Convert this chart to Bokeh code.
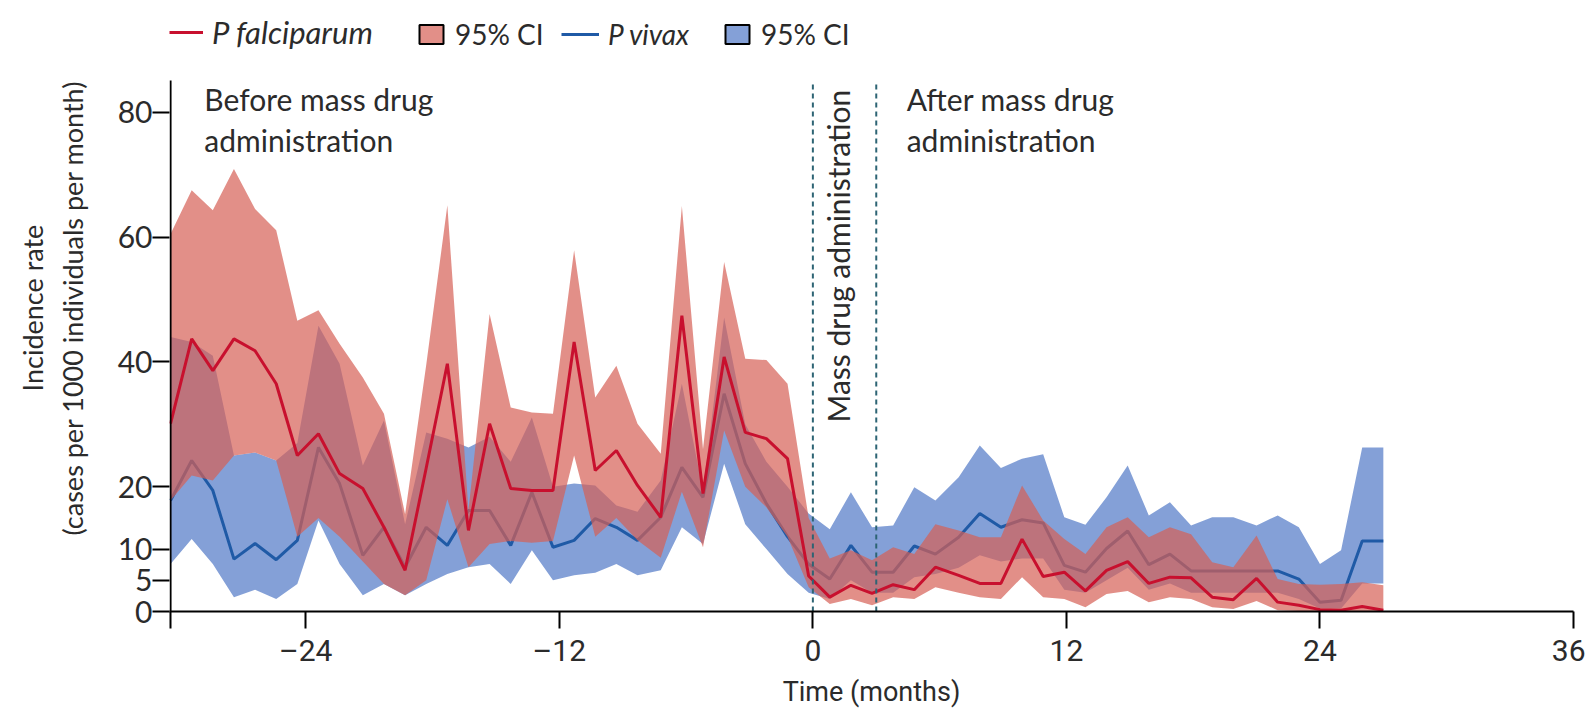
import math
from bokeh.plotting import figure
from bokeh.models import (ColumnDataSource, Range1d, FixedTicker, Label, Legend,
                          LegendItem)
from bokeh.embed import file_html
from bokeh.resources import INLINE

# ---------------- data ----------------
months = [-30.4, -29.4, -28.4, -27.4, -26.4, -25.4, -24.4, -23.4, -22.4, -21.3,
          -20.3, -19.3, -18.3, -17.3, -16.3, -15.3, -14.3, -13.3, -12.3, -11.3,
          -10.3, -9.3, -8.3, -7.2, -6.2, -5.2, -4.2, -3.2, -2.2, -1.2,
          -0.2, 0.8, 1.8, 2.8, 3.8, 4.8, 5.8, 6.9, 7.9, 8.9,
          9.9, 10.9, 11.9, 12.9, 13.9, 14.9, 15.9, 16.9, 17.9, 18.9,
          19.9, 21.0, 22.0, 23.0, 24.0, 25.0, 26.0, 27.0]

pf = [30.1, 43.7, 38.6, 43.7, 41.8, 36.5, 25.0, 28.5, 22.1, 19.7,
      13.5, 6.6, 23.0, 39.7, 13.0, 30.1, 19.7, 19.4, 19.4, 43.2,
      22.6, 25.8, 20.2, 15.1, 47.4, 18.9, 40.8, 28.7, 27.7, 24.5,
      5.7, 2.3, 4.2, 2.9, 4.3, 3.5, 7.1, 5.8, 4.5, 4.5,
      11.6, 5.6, 6.3, 3.3, 6.6, 8.0, 4.5, 5.5, 5.4, 2.3,
      1.9, 5.3, 1.5, 1.0, 0.3, 0.2, 0.8, 0.2]
pf_hi = [60.5, 67.5, 64.3, 70.9, 64.5, 61.1, 46.6, 48.3, 42.9, 37.5,
         31.7, 15.6, 39.5, 65.1, 16.2, 47.7, 32.7, 31.9, 31.7, 57.9,
         34.3, 39.4, 30.1, 25.3, 65.0, 26.0, 56.0, 40.5, 40.3, 36.5,
         15.0, 8.5, 9.8, 8.2, 10.3, 9.2, 14.0, 13.0, 11.9, 11.9,
         20.2, 14.6, 11.6, 9.2, 13.5, 15.1, 11.9, 13.5, 12.4, 7.9,
         7.1, 12.2, 5.2, 4.4, 4.3, 4.4, 4.7, 4.2]
pf_lo = [17.8, 21.8, 21.0, 25.0, 25.5, 24.2, 12.0, 15.0, 12.0, 8.0,
         4.4, 2.6, 5.0, 18.0, 7.1, 10.8, 11.3, 11.0, 11.3, 25.0,
         12.0, 15.0, 11.4, 8.6, 19.2, 10.3, 29.0, 20.0, 16.7, 12.0,
         3.9, 1.2, 2.0, 1.0, 2.3, 2.0, 3.9, 3.0, 2.3, 2.0,
         5.5, 2.3, 2.0, 0.7, 2.8, 3.3, 1.5, 2.3, 2.0, 0.7,
         0.4, 1.7, 0.2, 0.1, 0.0, 0.0, 0.0, 0.0]

pv = [17.8, 24.2, 19.4, 8.4, 10.9, 8.3, 11.4, 26.3, 20.5, 9.0,
      13.5, 7.1, 13.5, 10.6, 16.2, 16.2, 10.6, 19.1, 10.3, 11.4,
      14.9, 13.5, 11.4, 15.1, 23.1, 18.3, 34.9, 23.7, 17.3, 12.0,
      7.6, 5.2, 10.6, 6.3, 6.3, 10.5, 9.2, 11.9, 15.7, 13.5,
      14.7, 14.2, 7.4, 6.3, 10.1, 12.9, 7.5, 9.2, 6.5, 6.5,
      6.5, 6.5, 6.5, 5.2, 1.5, 1.8, 11.3, 11.3]
pv_hi = [44.0, 43.2, 41.0, 25.0, 25.5, 24.2, 27.0, 45.8, 39.7, 23.4,
         30.6, 14.0, 28.7, 27.7, 26.3, 28.0, 24.0, 31.1, 20.0, 20.5,
         20.2, 17.0, 16.0, 21.0, 36.5, 19.4, 47.1, 30.0, 24.0, 20.0,
         15.7, 13.2, 19.1, 13.5, 13.8, 19.9, 17.8, 21.5, 26.6, 23.0,
         24.5, 25.2, 15.1, 13.9, 18.3, 23.4, 15.4, 17.5, 13.8, 15.1,
         15.1, 13.8, 15.4, 13.5, 7.6, 9.8, 26.3, 26.3]
pv_lo = [7.6, 11.6, 7.6, 2.3, 3.5, 2.0, 4.4, 14.6, 7.6, 2.6,
         4.4, 2.6, 4.4, 6.0, 7.1, 7.6, 4.4, 9.8, 5.0, 5.8,
         6.2, 7.6, 5.8, 6.6, 13.5, 10.8, 23.7, 14.0, 10.0, 6.0,
         3.0, 2.0, 5.0, 3.0, 3.0, 5.5, 6.0, 7.0, 9.0, 8.0,
         8.5, 8.5, 3.5, 3.0, 5.0, 7.0, 3.5, 4.5, 3.0, 3.0,
         3.0, 3.0, 3.0, 2.0, 0.5, 0.5, 4.5, 4.5]

x_ticks = [-24, -12, 0, 12, 24, 36]
x_tick_labels = ["\u201324", "\u201312", "0", "12", "24", "36"]
y_ticks = [0, 5, 10, 20, 40, 60, 80]
mda_lines = [0, 3]

# ---------------- style ----------------
RED_LINE = "#c8102e"
RED_FILL = "#d65f55"
BLUE_LINE = "#1f5aa6"
BLUE_FILL = "#6f8fd0"
TEXT = "#2b2b2b"
FONT = "Lato"
NARROW = "Roboto"

X0, X1 = -30.4, 36.0
AX_TOP = 85.1           # top of the drawn y axis
PX_PER_UNIT = 6.2375    # vertical pixels per unit of the y axis
FRAME_TOP_EXTRA = 76    # pixels of frame kept above the axis for the legend
Y1 = AX_TOP + FRAME_TOP_EXTRA / PX_PER_UNIT

p = figure(width=1585, height=711, output_backend="svg", toolbar_location=None,
           x_range=Range1d(X0 - 0.05, X1), y_range=Range1d(0, Y1),
           min_border_left=169, min_border_right=12, min_border_top=4,
           min_border_bottom=100)
p.outline_line_color = None
p.xgrid.visible = False
p.ygrid.visible = False
p.background_fill_color = "white"

src = ColumnDataSource(dict(x=months, pf=pf, pf_lo=pf_lo, pf_hi=pf_hi,
                            pv=pv, pv_lo=pv_lo, pv_hi=pv_hi))

p.varea(x="x", y1="pv_lo", y2="pv_hi", source=src, fill_color=BLUE_FILL, fill_alpha=0.85)
pv_r = p.line("x", "pv", source=src, line_color=BLUE_LINE, line_width=3)
p.varea(x="x", y1="pf_lo", y2="pf_hi", source=src, fill_color=RED_FILL, fill_alpha=0.7)
pf_r = p.line("x", "pf", source=src, line_color=RED_LINE, line_width=3)

# dashed lines marking the mass drug administration period
p.segment(x0=mda_lines, y0=[0] * len(mda_lines), x1=mda_lines,
          y1=[AX_TOP] * len(mda_lines), line_color="#2d6474",
          line_dash="5 4", line_width=2)

# y axis line drawn only up to the axis top
p.segment(x0=[X0], y0=[0], x1=[X0], y1=[AX_TOP], line_color="black", line_width=2)

# axes
ax = p.xaxis[0]
ax.ticker = FixedTicker(ticks=[X0] + x_ticks)
ax.major_label_overrides = {X0: ""} | {t: s for t, s in zip(x_ticks, x_tick_labels)}
ay = p.yaxis[0]
ay.ticker = FixedTicker(ticks=y_ticks)
for a in (ax, ay):
    a.axis_line_color = "black"
    a.axis_line_width = 2
    a.major_tick_line_color = "black"
    a.major_tick_line_width = 2
    a.major_tick_out = 17
    a.major_tick_in = 0
    a.minor_tick_line_color = None
    a.major_label_text_color = TEXT
    a.axis_label_text_color = TEXT
    a.axis_label_text_font_style = "normal"
ay.axis_line_color = None
ax.major_label_text_font = NARROW
ax.major_label_text_font_size = "30px"
ax.major_label_standoff = 4
ax.axis_label = "Time (months)"
ax.axis_label_text_font = NARROW
ax.axis_label_text_font_size = "27px"
ax.axis_label_standoff = 5
ay.major_label_text_font = FONT
ay.major_label_text_font_size = "30px"
ay.major_label_standoff = 0
ay.axis_label = "Incidence rate\n(cases per 1000 individuals per month)"
ay.axis_label_text_font = FONT
ay.axis_label_text_font_size = "27px"
ay.axis_label_standoff = 26

def lab(x, y, text, size="30px", angle=0.0):
    p.add_layout(Label(x=x, y=y, text=text, angle=angle, text_align="left",
                       text_baseline="alphabetic", text_font=FONT,
                       text_font_size=size, text_color=TEXT))

lab(-28.8, 82.2, "Before mass drug")
lab(-28.8, 75.6, "administration")
lab(4.44, 82.2, "After mass drug")
lab(4.44, 75.6, "administration")
lab(1.2, 30.3, "Mass drug administration", angle=math.pi / 2)

# legend swatches: quads kept outside the visible x range, used only as legend keys
box_pf = p.quad(left=[X1 + 10], right=[X1 + 11], top=[1], bottom=[0], fill_color=RED_FILL,
                fill_alpha=0.7, line_color="black", line_width=2)
box_pv = p.quad(left=[X1 + 10], right=[X1 + 11], top=[1], bottom=[0], fill_color=BLUE_FILL,
                fill_alpha=0.85, line_color="black", line_width=2)

# four single-item legends so the label styles can differ (italic species names)
legend_specs = [
    (pf_r, "P falciparum", 0, "italic", 34, "31px"),
    (box_pf, "95% CI", 247, "normal", 30, "28px"),
    (pv_r, "P vivax", 392, "italic", 38, "28px"),
    (box_pv, "95% CI", 553, "normal", 30, "28px"),
]
for rend, text, xpx, style, gw, fs in legend_specs:
    lg = Legend(items=[LegendItem(label=text, renderers=[rend])],
                location=(xpx, 560), orientation="horizontal",
                glyph_width=gw, glyph_height=24, label_height=24,
                label_standoff=9, padding=0, margin=0, spacing=0,
                border_line_color=None, background_fill_alpha=0,
                label_text_font=FONT, label_text_font_size=fs,
                label_text_font_style=style, label_text_color=TEXT)
    p.add_layout(lg)

open("out.html", "w").write(file_html(p, INLINE))
